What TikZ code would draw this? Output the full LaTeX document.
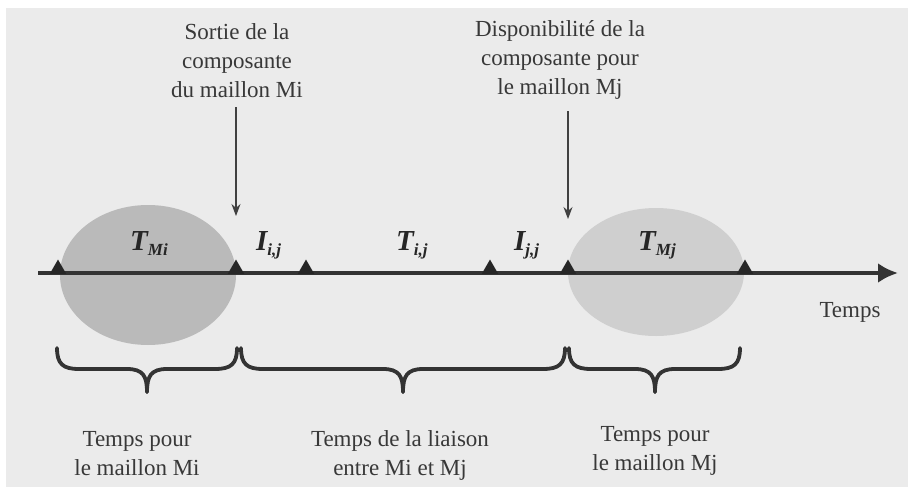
\documentclass[tikz,border=0pt]{standalone}
\usepackage{fontspec}
\setmainfont{Liberation Serif}
\usetikzlibrary{shapes.geometric,arrows.meta}
\newcommand{\mysub}[1]{\raisebox{-5pt}{\fontsize{17}{17}\selectfont #1}}
\begin{document}
\begin{tikzpicture}[x=1pt,y=-1pt,
  txt/.style={font=\fontsize{23}{29}\selectfont, align=center, text=black!78, inner sep=0},
  sym/.style={font=\fontsize{29}{30}\selectfont\bfseries\itshape, text=black!85, inner sep=0, anchor=base west},
  tick/.style={regular polygon, regular polygon sides=3, fill=black!85, inner sep=0, minimum size=19pt, anchor=south},
  blob/.style={fill=black!27},
  brc/.style={line width=3.8pt, draw=black!80, line cap=round},
  pointer/.style={line width=1.1pt, draw=black!75, -{Stealth[length=12pt,width=9pt]}}
]
\useasboundingbox (0,0) rectangle (914,493);
\fill[white] (0,0) rectangle (914,493);
\fill[black!8] (6,8) rectangle (908,487);
% blobs
\fill[blob] (148,275) ellipse [x radius=88, y radius=70];
\fill[blob,fill=black!19] (656,272) ellipse [x radius=88, y radius=64];
% axis
\coordinate (ax0) at (38,273);
\coordinate (ax1) at (898,273);
\draw[line width=4pt, draw=black!80, -{Latex[length=20pt,width=20pt]}] (ax0) -- (ax1);
% ticks
\node[tick] (t1) at (58,274) {};
\node[tick] (t2) at (236,274) {};
\node[tick] (t3) at (306,274) {};
\node[tick] (t4) at (490,274) {};
\node[tick] (t5) at (568,274) {};
\node[tick] (t6) at (745,274) {};
% symbols
\node[sym] (sMi) at (130,250) {T\mysub{Mi}};
\node[sym] (sIij) at (256,250) {I\mysub{i,j}};
\node[sym] (sTij) at (396,250) {T\mysub{i,j}};
\node[sym] (sIjj) at (514,250) {I\mysub{j,j}};
\node[sym] (sMj) at (638,250) {T\mysub{Mj}};
% top labels
\node[txt] (top1) at (237,61) {Sortie de la\\composante\\du maillon Mi};
\node[txt] (top2) at (560,60) {Disponibilité de la\\composante pour\\le maillon Mj};
\coordinate (p1s) at (236,107);
\coordinate (p1e) at (236,216);
\coordinate (p2s) at (568,111);
\coordinate (p2e) at (568,219);
\draw[pointer] (p1s) -- (p1e);
\draw[pointer] (p2s) -- (p2e);
\node[txt] (temps) at (850,312) {Temps};
% braces
\foreach \a/\b/\m in {57/237/147, 241/565/403, 569/740/655}{
  \draw[brc] (\a,348) .. controls (\a,364) and (\a+6,369) .. (\a+22,369)
     -- (\m-20,369) .. controls (\m-4,369) and (\m,376) .. (\m,392);
  \draw[brc] (\b,348) .. controls (\b,364) and (\b-6,369) .. (\b-22,369)
     -- (\m+20,369) .. controls (\m+4,369) and (\m,376) .. (\m,392);
}
% bottom labels
\node[txt] (bot1) at (137,454) {Temps pour\\le maillon Mi};
\node[txt] (bot2) at (400,455) {Temps de la liaison\\entre Mi et Mj};
\node[txt] (bot3) at (655,451) {Temps pour\\le maillon Mj};
\end{tikzpicture}
\end{document}
